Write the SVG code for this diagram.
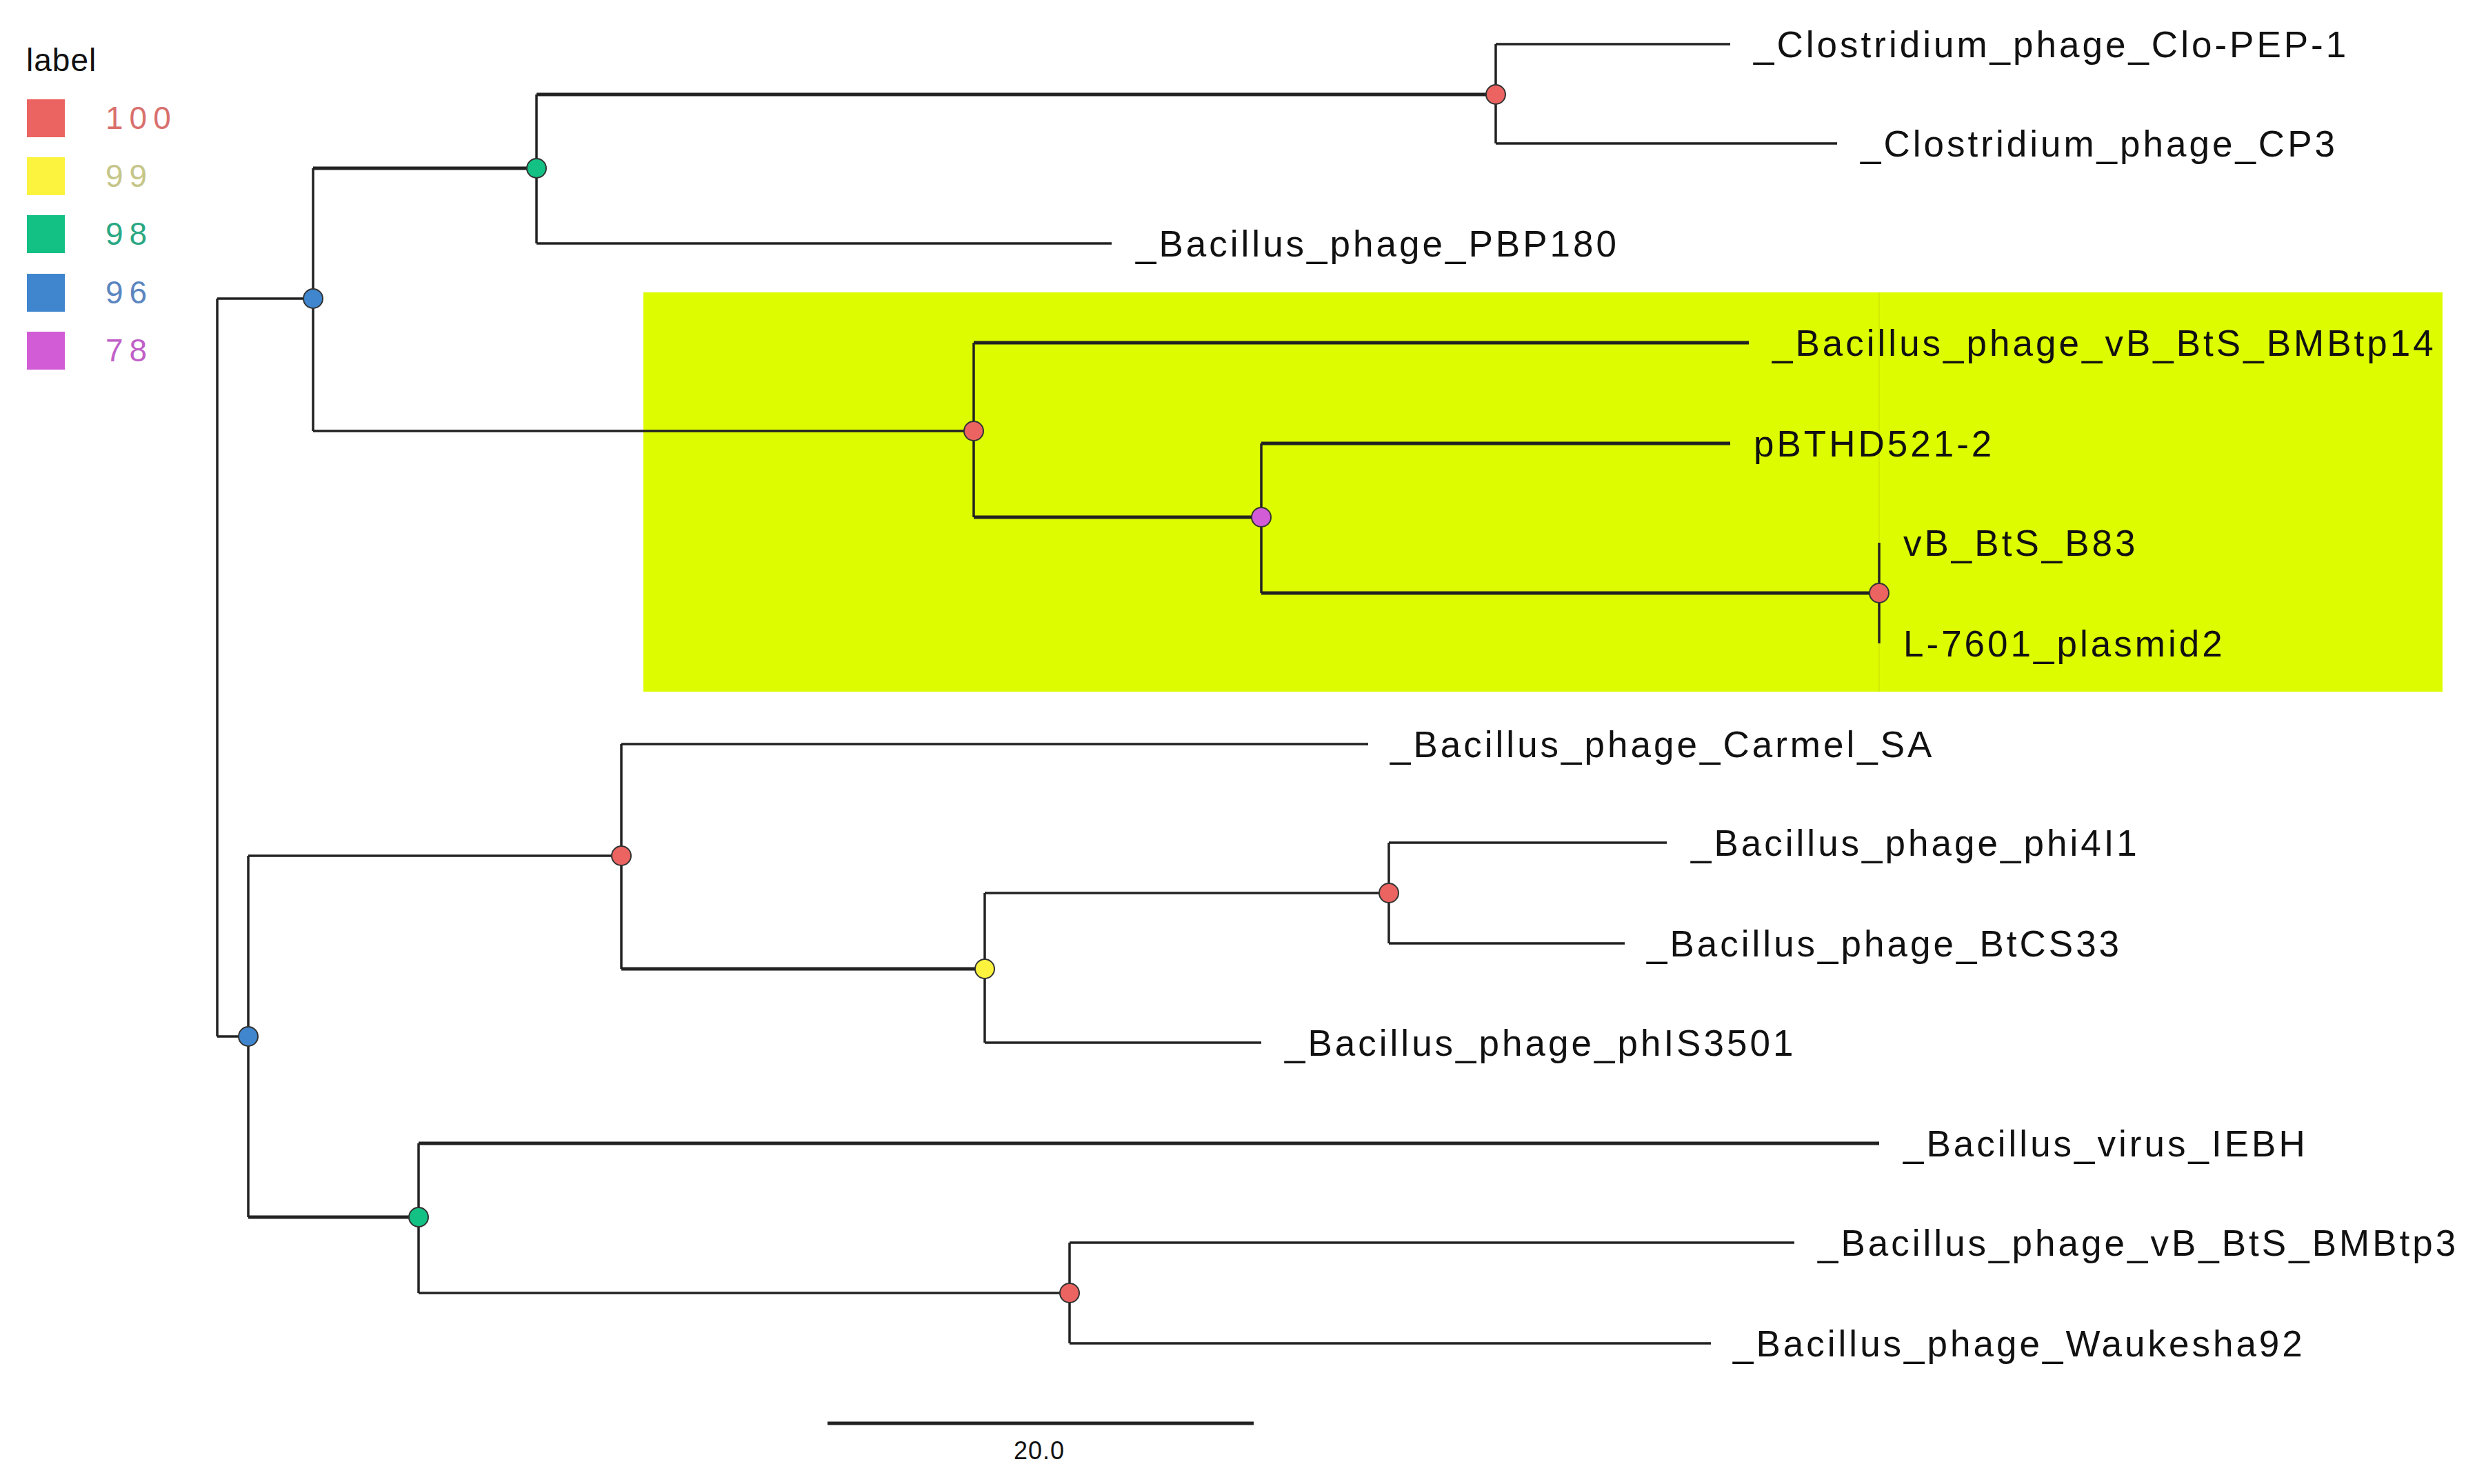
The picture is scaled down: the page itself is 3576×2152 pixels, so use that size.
<svg xmlns="http://www.w3.org/2000/svg" width="3576" height="2152" viewBox="0 0 3576 2152">
<style>
.e{stroke:#222;stroke-width:5;fill:none}
.t{stroke:#222;stroke-width:3.5;fill:none}
.n{stroke:#333;stroke-width:2}
.lb{font-family:"Liberation Sans",Arial,sans-serif;font-size:53px;fill:#111;dominant-baseline:central;letter-spacing:4px}
.lg{font-family:"Liberation Sans",Arial,sans-serif;font-size:46px;dominant-baseline:central;letter-spacing:9px}
</style>
<rect width="3576" height="2152" fill="#fff"/>
<rect x="933" y="424" width="2609" height="579" fill="#DDFC00"/>
<line x1="2725" y1="424" x2="2725" y2="1003" stroke="#d4ec00" stroke-width="2"/>
<g id="legend">
<text class="lg" x="38" y="87" fill="#111" style="letter-spacing:1px">label</text>
<rect x="39" y="144" width="55" height="55" fill="#EB6461"/><text class="lg" x="153" y="171" fill="#D9706E">100</text>
<rect x="39" y="228" width="55" height="55" fill="#FBF33D"/><text class="lg" x="153" y="255" fill="#C6C68A">99</text>
<rect x="39" y="312" width="55" height="55" fill="#14C184"/><text class="lg" x="153" y="339" fill="#2AA884">98</text>
<rect x="39" y="397" width="55" height="55" fill="#3F86CE"/><text class="lg" x="153" y="424" fill="#5B86C0">96</text>
<rect x="39" y="481" width="55" height="55" fill="#D15CD6"/><text class="lg" x="153" y="508" fill="#C060C8">78</text>
</g>
<g id="connectors">
<path class="t" d="M315 433V1503M315 433H454M315 1503H360"/>
<path class="t" d="M454 244V625"/><path class="e" d="M454 244H778"/><path class="t" d="M454 625H1412"/>
<path class="t" d="M778 137V353"/><path class="e" d="M778 137H2169"/><path class="t" d="M778 353H1612"/>
<path class="t" d="M2169 64V208M2169 64H2509M2169 208H2664"/>
<path class="t" d="M1412 497V750"/><path class="e" d="M1412 497H2536M1412 750H1829"/>
<path class="t" d="M1829 643V860"/><path class="e" d="M1829 643H2509M1829 860H2725"/>
<path class="t" d="M2725 787V933"/>
<path class="t" d="M360 1241V1765"/><path class="t" d="M360 1241H901"/><path class="e" d="M360 1765H607"/>
<path class="t" d="M901 1079V1405"/><path class="t" d="M901 1079H1984"/><path class="e" d="M901 1405H1428"/>
<path class="t" d="M1428 1295V1512"/><path class="t" d="M1428 1295H2014M1428 1512H1829"/>
<path class="t" d="M2014 1222V1368M2014 1222H2417M2014 1368H2356"/>
<path class="t" d="M607 1658V1875"/><path class="e" d="M607 1658H2725"/><path class="t" d="M607 1875H1551"/>
<path class="t" d="M1551 1802V1948M1551 1802H2602M1551 1948H2481"/>
<path class="e" d="M1200 2064H1818"/>
</g>
<g id="nodes">
<circle class="n" cx="454" cy="433" r="14" fill="#3F86CE"/>
<circle class="n" cx="778" cy="244" r="14" fill="#14C184"/>
<circle class="n" cx="2169" cy="137" r="14" fill="#EB6461"/>
<circle class="n" cx="1412" cy="625" r="14" fill="#EB6461"/>
<circle class="n" cx="1829" cy="750" r="14" fill="#D15CD6"/>
<circle class="n" cx="2725" cy="860" r="14" fill="#EB6461"/>
<circle class="n" cx="360" cy="1503" r="14" fill="#3F86CE"/>
<circle class="n" cx="901" cy="1241" r="14" fill="#EB6461"/>
<circle class="n" cx="1428" cy="1405" r="14" fill="#FBF33D"/>
<circle class="n" cx="2014" cy="1295" r="14" fill="#EB6461"/>
<circle class="n" cx="607" cy="1765" r="14" fill="#14C184"/>
<circle class="n" cx="1551" cy="1875" r="14" fill="#EB6461"/>
</g>
<g id="labels">
<text class="lb" x="2543" y="64">_Clostridium_phage_Clo-PEP-1</text>
<text class="lb" x="2698" y="208">_Clostridium_phage_CP3</text>
<text class="lb" x="1647" y="353">_Bacillus_phage_PBP180</text>
<text class="lb" x="2570" y="497">_Bacillus_phage_vB_BtS_BMBtp14</text>
<text class="lb" x="2543" y="643">pBTHD521-2</text>
<text class="lb" x="2760" y="787">vB_BtS_B83</text>
<text class="lb" x="2760" y="933">L-7601_plasmid2</text>
<text class="lb" x="2016" y="1079">_Bacillus_phage_Carmel_SA</text>
<text class="lb" x="2452" y="1222">_Bacillus_phage_phi4I1</text>
<text class="lb" x="2388" y="1368">_Bacillus_phage_BtCS33</text>
<text class="lb" x="1863" y="1512">_Bacillus_phage_phIS3501</text>
<text class="lb" x="2760" y="1658">_Bacillus_virus_IEBH</text>
<text class="lb" x="2636" y="1802">_Bacillus_phage_vB_BtS_BMBtp3</text>
<text class="lb" x="2513" y="1948">_Bacillus_phage_Waukesha92</text>
<text class="lb" x="1507" y="2103" text-anchor="middle" style="font-size:36px;letter-spacing:1px">20.0</text>
</g>
</svg>
